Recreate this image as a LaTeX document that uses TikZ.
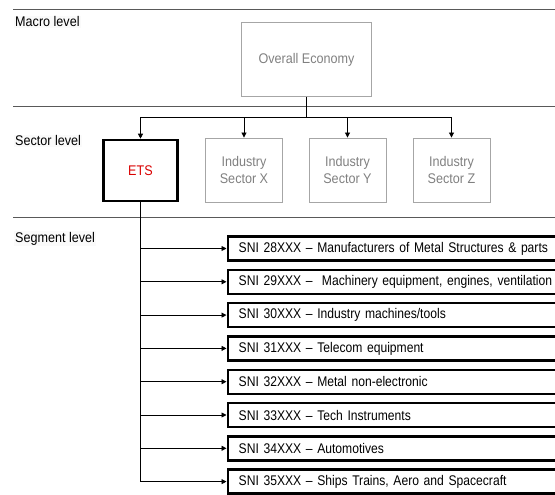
\documentclass[tikz,border=0pt]{standalone}
\usepackage{fontspec}
\setmainfont{Liberation Sans}[FakeStretch=0.9]
\newfontfamily\segfont{Liberation Sans}[FakeStretch=0.865, Ligatures=TeX]
\usetikzlibrary{positioning, arrows.meta}
\colorlet{rule}{black!65}
\colorlet{greyBox}{black!35}
\colorlet{greyTxt}{black!50}
\colorlet{etsRed}{red!85!black}
\tikzset{
  lvl/.style     ={anchor=base west, inner sep=1pt, fill=black!2,
                   font=\fontsize{14}{16}\selectfont},
  divider/.style ={rule, line width=0.9pt},
  card/.style    ={draw=greyBox, line width=0.9pt, align=center,
                   text=greyTxt, font=\fontsize{14}{16.5}\selectfont},
  Ltop/.style    ={card, minimum width=130pt, minimum height=74pt},
  Lsector/.style ={card, minimum width=77pt, minimum height=64pt},
  Lets/.style    ={Lsector, draw=black, line width=2.6pt, text=etsRed,
                   minimum width=74pt, minimum height=61pt},
  Lseg/.style    ={draw=black, line width=2.4pt, anchor=west,
                   minimum height=24pt, text width=380pt, align=left,
                   inner xsep=11pt, font=\segfont\fontsize{14}{16}\selectfont},
  link/.style    ={-, black, line width=0.9pt},
  feed/.style    ={-{Triangle[length=5pt, width=5pt]}, black, line width=0.9pt},
}

\begin{document}
\begin{tikzpicture}[x=1pt, y=-1pt]
\useasboundingbox (0,0) rectangle (555,495);
\clip (0,0) rectangle (555,495);

% level rules and labels
\draw[divider] (13,9.5)   -- (555,9.5);
\draw[divider] (13,106)   -- (555,106);
\draw[divider] (13,217.5) -- (555,217.5);
\node[lvl] (macro) at (14,27)   {Macro level};
\node[lvl] (sect)  at (14,146)  {Sector level};
\node[lvl] (segm)  at (14,242)  {Segment level};

% macro level
\node[Ltop] (OE) at (306.5,59.5) {Overall Economy};
\coordinate (hub) at (306.5,117.5);

% sector level
\node[Lets]    (ETS) at (140.5,170.5) {ETS};
\node[Lsector] (SX)  at (244,170)   {Industry\\Sector X};
\node[Lsector] (SY)  at (347.5,170) {Industry\\Sector Y};
\node[Lsector] (SZ)  at (451.5,170) {Industry\\Sector Z};
\draw[link] (OE.south) -- (hub);
\foreach \s in {ETS, SX, SY, SZ}
  \draw[feed] (hub) -| (\s.north);

% segment level -- SNI codes under ETS
\foreach \n/\y/\t in {
  28/248.5/{SNI 28XXX -- Manufacturers of Metal Structures \& parts},
  29/281.8/{SNI 29XXX --\ \ Machinery equipment, engines, ventilation},
  30/315.1/{SNI 30XXX -- Industry machines/tools},
  31/348.4/{SNI 31XXX -- Telecom equipment},
  32/381.7/{SNI 32XXX -- Metal non-electronic},
  33/415.0/{SNI 33XXX -- Tech Instruments},
  34/448.3/{SNI 34XXX -- Automotives},
  35/481.6/{SNI 35XXX -- Ships Trains, Aero and Spacecraft}} {
  \node[Lseg] (S\n) at (226.5,\y) {\t};
  \draw[feed] (ETS.south) |- (S\n.west);
}

\end{tikzpicture}
\end{document}
